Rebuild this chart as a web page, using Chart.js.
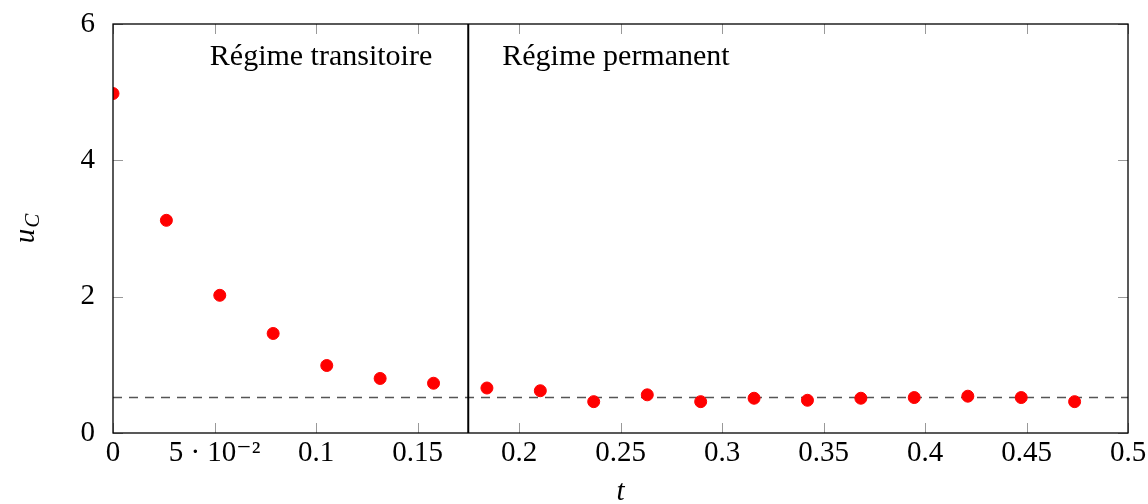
<!DOCTYPE html>
<html>
<head>
<meta charset="utf-8">
<script src="https://cdn.jsdelivr.net/npm/chart.js@4.4.0/dist/chart.umd.min.js"></script>
<style>
  html, body { margin: 0; padding: 0; background: #fff; }
  #wrap { width: 1148px; height: 504px; }
</style>
</head>
<body>
<div id="wrap"><canvas id="chart"></canvas></div>
<script>
// sampled capacitor voltage
const tValues = [0, 0.0263, 0.0526, 0.0789, 0.1053, 0.1316, 0.1579, 0.1842, 0.2105, 0.2368,
                 0.2632, 0.2895, 0.3158, 0.3421, 0.3684, 0.3947, 0.4211, 0.4474, 0.4737];
const ucValues = [4.98, 3.12, 2.02, 1.46, 0.99, 0.80, 0.73, 0.66, 0.62, 0.46,
                  0.56, 0.46, 0.51, 0.48, 0.51, 0.52, 0.54, 0.52, 0.46];
const steadyValue = 0.52;
const boundaryT = 0.175;
const xTicks = [0, 0.05, 0.1, 0.15, 0.2, 0.25, 0.3, 0.35, 0.4, 0.45, 0.5];
const yTicks = [0, 2, 4, 6];
const regionLabels = ['Régime transitoire', 'Régime permanent'];

const serif = '"Liberation Serif", "DejaVu Serif", serif';

function xTickLabel(v) {
  if (Math.abs(v - 0.05) < 1e-9) return '5 · 10⁻²';
  return String(Math.round(v * 100) / 100);
}

// frame, inner ticks, region texts, y title
const decor = {
  id: 'decor',
  afterDatasetsDraw(chart) {
    const { ctx, chartArea: a, scales: { x, y } } = chart;
    ctx.save();
    ctx.strokeStyle = '#999';
    ctx.lineWidth = 1;
    const tl = 10;
    xTicks.forEach(v => {
      const px = Math.round(x.getPixelForValue(v)) + 0.5;
      ctx.beginPath();
      ctx.moveTo(px, a.bottom); ctx.lineTo(px, a.bottom - tl);
      ctx.moveTo(px, a.top); ctx.lineTo(px, a.top + tl);
      ctx.stroke();
    });
    yTicks.forEach(v => {
      const py = Math.round(y.getPixelForValue(v)) + 0.5;
      ctx.beginPath();
      ctx.moveTo(a.left, py); ctx.lineTo(a.left + tl, py);
      ctx.moveTo(a.right, py); ctx.lineTo(a.right - tl, py);
      ctx.stroke();
    });
    ctx.strokeStyle = '#000';
    ctx.lineWidth = 1.3;
    ctx.strokeRect(a.left, a.top, a.right - a.left, a.bottom - a.top);

    const bx = x.getPixelForValue(boundaryT);
    ctx.fillStyle = '#000';
    ctx.font = '30px ' + serif;
    ctx.textBaseline = 'alphabetic';
    ctx.textAlign = 'right';
    ctx.fillText(regionLabels[0], bx - 36, a.top + 41);
    ctx.textAlign = 'left';
    ctx.fillText(regionLabels[1], bx + 34, a.top + 41);

    // y axis title u_C
    ctx.translate(28, 229);
    ctx.rotate(-Math.PI / 2);
    ctx.textAlign = 'left';
    ctx.font = 'italic 29px ' + serif;
    const w1 = ctx.measureText('u').width;
    ctx.font = 'italic 21px ' + serif;
    const w2 = ctx.measureText('C').width;
    const start = -(w1 + w2) / 2;
    ctx.font = 'italic 29px ' + serif;
    ctx.fillText('u', start, 6);
    ctx.font = 'italic 21px ' + serif;
    ctx.fillText('C', start + w1 + 1, 11);
    ctx.restore();
  }
};

new Chart(document.getElementById('chart'), {
  type: 'scatter',
  data: {
    datasets: [
      {
        data: tValues.map((t, i) => ({ x: t, y: ucValues[i] })),
        backgroundColor: '#ff0000',
        borderColor: '#ff0000',
        pointRadius: 6,
        pointHoverRadius: 6,
        order: 1
      },
      {
        data: [{ x: 0, y: steadyValue }, { x: 0.5, y: steadyValue }],
        showLine: true,
        borderColor: '#555',
        borderWidth: 1.5,
        borderDash: [9, 7],
        pointRadius: 0,
        order: 3
      },
      {
        data: [{ x: boundaryT, y: 0 }, { x: boundaryT, y: 6 }],
        showLine: true,
        borderColor: '#000',
        borderWidth: 2,
        pointRadius: 0,
        order: 2
      }
    ]
  },
  options: {
    responsive: true,
    maintainAspectRatio: false,
    animation: false,
    layout: { padding: { top: 24, right: 20, left: 0, bottom: 0 } },
    plugins: { legend: { display: false }, tooltip: { enabled: false } },
    scales: {
      x: {
        type: 'linear',
        min: 0, max: 0.5,
        afterBuildTicks(scale) { scale.ticks = xTicks.map(v => ({ value: v })); },
        afterFit(scale) { scale.height = 71; scale.paddingLeft = 0; scale.paddingRight = 0; },
        grid: { display: false },
        border: { display: false },
        ticks: {
          color: '#000',
          padding: -5,
          maxRotation: 0,
          autoSkip: false,
          font: { family: serif, size: 29 },
          callback: v => xTickLabel(v)
        },
        title: {
          display: true,
          text: 't',
          color: '#000',
          padding: { top: 0, bottom: 0 },
          font: { family: serif, size: 29, style: 'italic', lineHeight: 0.8 }
        }
      },
      y: {
        type: 'linear',
        min: 0, max: 6,
        afterBuildTicks(scale) { scale.ticks = yTicks.map(v => ({ value: v })); },
        afterFit(scale) { scale.width = 113; scale.paddingTop = 0; scale.paddingBottom = 0; },
        grid: { display: false },
        border: { display: false },
        ticks: {
          color: '#000',
          padding: 10,
          font: { family: serif, size: 29 }
        }
      }
    }
  },
  plugins: [decor]
});
</script>
</body>
</html>
